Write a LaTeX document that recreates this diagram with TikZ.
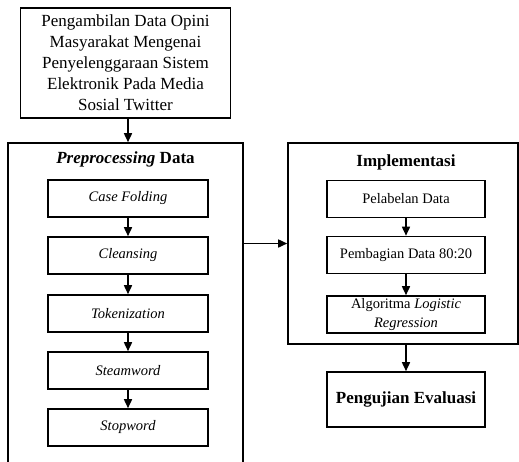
\documentclass[tikz,border=0pt]{standalone}
\usepackage{fontspec}
\setmainfont{Liberation Serif}
\usetikzlibrary{arrows.meta}
\begin{document}
\begin{tikzpicture}[x=1pt,y=-1pt,line width=1.6pt,
  box/.style={draw,minimum width=#1,inner sep=0pt,align=center},
  step box/.style={box=160pt,minimum height=37pt,font=\fontsize{14.5}{19}\selectfont\itshape},
  impl box/.style={box=158pt,minimum height=37pt,font=\fontsize{14.5}{19}\selectfont},
  title/.style={font=\fontsize{17}{21}\selectfont\bfseries},
  arr/.style={-{Triangle[width=8pt,length=9pt]}}]
\useasboundingbox (0,0) rectangle (519,461);
% sumber data
\node[box=210pt,minimum height=110pt,font=\fontsize{17}{21}\selectfont] (opini) at (125.5,63)
  {Pengambilan Data Opini\\Masyarakat Mengenai\\Penyelenggaraan Sistem\\Elektronik Pada Media\\Sosial Twitter};
% preprocessing
\node[box=235pt,minimum height=340pt] (prep) at (125.5,313) {};
\node[title] (preptitle) at (125.5,159) {\textit{Preprocessing} Data};
\node[step box] (casefold) at (128,198.5) {Case Folding};
\node[step box] (cleansing) at (128,255.5) {Cleansing};
\node[step box] (token) at (128,313.5) {Tokenization};
\node[step box] (steam) at (128,370.5) {Steamword};
\node[step box] (stop) at (128,427.5) {Stopword};
% implementasi
\node[box=230pt,minimum height=201pt] (impl) at (403,243.5) {};
\node[title] (impltitle) at (406,162) {Implementasi};
\node[impl box] (label) at (406,199) {Pelabelan Data};
\node[impl box] (split) at (406,255) {Pembagian Data 80:20};
\node[impl box] (logreg) at (406,314.5) {Algoritma \textit{Logistic}\\\textit{Regression}};
\node[box=158pt,minimum height=55pt,title] (eval) at (406,399.5) {Pengujian Evaluasi};
% panah
\draw[arr] (opini.south -| casefold) -- (prep.north -| casefold);
\draw[arr] (casefold) -- (cleansing);
\draw[arr] (cleansing) -- (token);
\draw[arr] (token) -- (steam);
\draw[arr] (steam) -- (stop);
\draw[arr] (label) -- (split);
\draw[arr] (split) -- (logreg);
\draw[arr] (impl.west -| prep.east) -- (impl.west);
\draw[arr] (impl.south -| eval) -- (eval.north);
\end{tikzpicture}
\end{document}
